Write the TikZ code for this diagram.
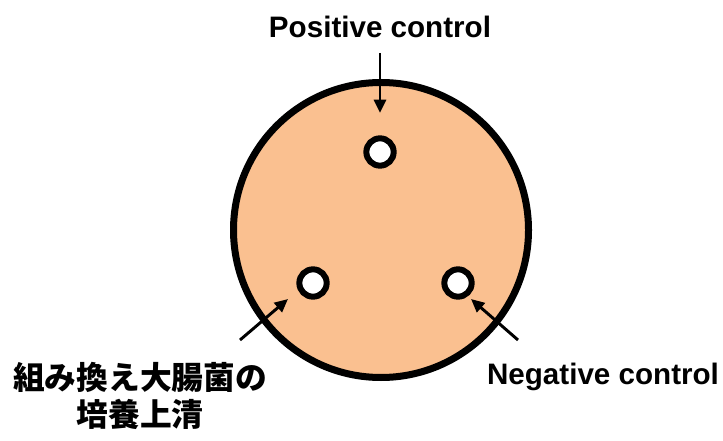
\documentclass[tikz,border=0pt]{standalone}
\usepackage{fontspec}
\setmainfont{Liberation Sans}
\newfontfamily\cjk{Noto Sans CJK JP}
\usetikzlibrary{arrows.meta}
\definecolor{peach}{HTML}{FAC090}
\tikzset{
  plate/.style={circle, draw=black, fill=peach, line width=5.25pt, inner sep=0pt, minimum size=221.25pt},
  well/.style={circle, draw=black, fill=white, line width=4.5pt, inner sep=0pt, minimum size=20.5pt},
  lbl/.style={font=\bfseries\fontsize{22.2}{26}\selectfont, inner sep=0pt},
  jlbl/.style={font=\cjk\bfseries\fontsize{23.8}{27.5}\selectfont, inner sep=0pt, align=center},
  pointer/.style={line width=2.2pt, -{Triangle[length=10pt,width=9pt]}}
}
\begin{document}
\begin{tikzpicture}[x=0.75pt,y=-0.75pt]
\useasboundingbox (0,0) rectangle (723,441);
\node[plate] (plate) at (381,230) {};
\node[well] (wtop) at (380,152) {};
\node[well] (wleft) at (313,283) {};
\node[well] (wright) at (458,283) {};
\node[lbl] (pos) at (380,27) {Positive control};
\node[lbl] (neg) at (603,377) {Negative control};
\node[jlbl] (jp) at (140,396) {組み換え大腸菌の\\培養上清};
\coordinate (t1) at (380,53);
\coordinate (h1) at (380,113);
\coordinate (t2) at (240,340);
\coordinate (h2) at (288,299);
\coordinate (t3) at (518,340);
\coordinate (h3) at (471,299);
\draw[pointer] (t1) -- (h1);
\draw[pointer] (t2) -- (h2);
\draw[pointer] (t3) -- (h3);
\end{tikzpicture}
\end{document}
